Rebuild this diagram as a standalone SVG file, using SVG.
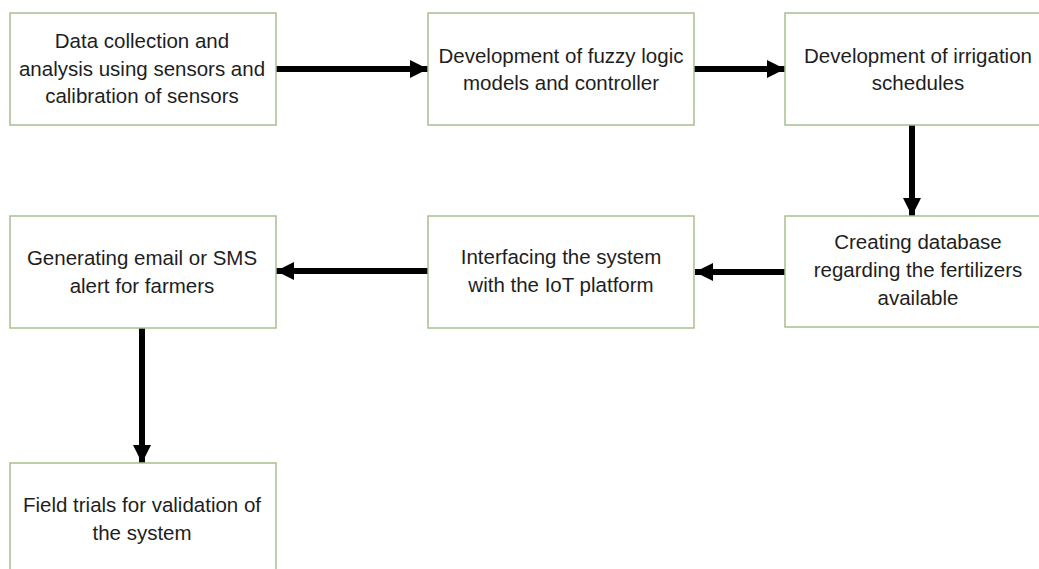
<svg xmlns="http://www.w3.org/2000/svg" width="1039" height="569" viewBox="0 0 1039 569">
<style>
.box{fill:#ffffff;stroke:#a8bf8e;stroke-width:1.5}
.t{font-family:"Liberation Sans","Open Sans",sans-serif;font-size:20.5px;fill:#1e1e1e;text-anchor:middle}
.c{stroke:#000;stroke-width:6;fill:none}
</style>
<defs>
<marker id="ah" markerUnits="userSpaceOnUse" markerWidth="18" markerHeight="18" refX="18" refY="9" orient="auto">
<path d="M0,0 L18,9 L0,18 Z" fill="#000"/>
</marker>
</defs>
<rect width="1039" height="569" fill="#ffffff"/>
<g id="connectors">
<line class="c" x1="276" y1="69" x2="428" y2="69" marker-end="url(#ah)"/>
<line class="c" x1="694" y1="69" x2="785" y2="69" marker-end="url(#ah)"/>
<line class="c" x1="912" y1="125" x2="912" y2="216" marker-end="url(#ah)"/>
<line class="c" x1="785" y1="272" x2="695" y2="272" marker-end="url(#ah)"/>
<line class="c" x1="428" y1="271" x2="276" y2="271" marker-end="url(#ah)"/>
<line class="c" x1="142" y1="328" x2="142" y2="463" marker-end="url(#ah)"/>
</g>
<g id="n1">
<rect class="box" x="10" y="13" width="266" height="112"/>
<text class="t" x="142" y="48">Data collection and</text>
<text class="t" x="142" y="76">analysis using sensors and</text>
<text class="t" x="142" y="103">calibration of sensors</text>
</g>
<g id="n2">
<rect class="box" x="428" y="13" width="266" height="112"/>
<text class="t" x="561" y="63">Development of fuzzy logic</text>
<text class="t" x="561" y="90">models and controller</text>
</g>
<g id="n3">
<rect class="box" x="785" y="13" width="266" height="112"/>
<text class="t" x="918" y="63">Development of irrigation</text>
<text class="t" x="918" y="90">schedules</text>
</g>
<g id="n4">
<rect class="box" x="785" y="216" width="266" height="111"/>
<text class="t" x="918" y="249">Creating database</text>
<text class="t" x="918" y="277">regarding the fertilizers</text>
<text class="t" x="918" y="305">available</text>
</g>
<g id="n5">
<rect class="box" x="428" y="216" width="266" height="112"/>
<text class="t" x="561" y="264">Interfacing the system</text>
<text class="t" x="561" y="292">with the IoT platform</text>
</g>
<g id="n6">
<rect class="box" x="10" y="216" width="266" height="112"/>
<text class="t" x="142" y="265">Generating email or SMS</text>
<text class="t" x="142" y="293">alert for farmers</text>
</g>
<g id="n7">
<rect class="box" x="10" y="463" width="266" height="112"/>
<text class="t" x="142" y="512">Field trials for validation of</text>
<text class="t" x="142" y="540">the system</text>
</g>
</svg>
